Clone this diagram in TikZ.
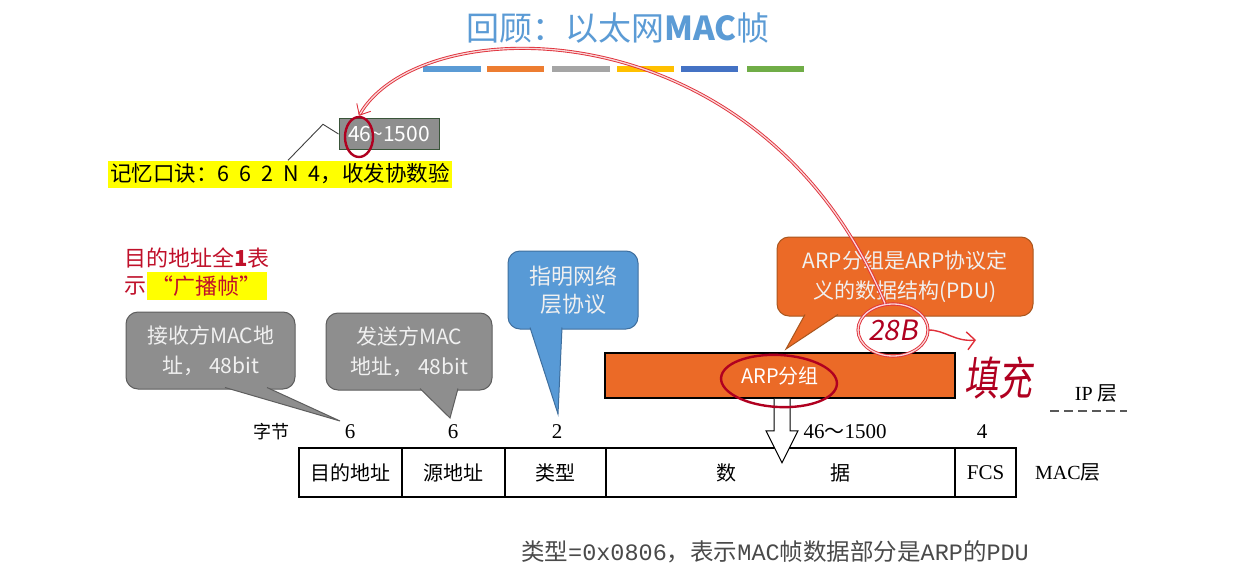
\documentclass[tikz,border=0pt]{standalone}
\usepackage{fontspec}
\setmainfont{Noto Sans CJK SC}
\newfontfamily\tms{Liberation Serif}
\newfontfamily\mono{Liberation Mono}
\newfontfamily\hand[FakeSlant=0.18]{Noto Sans CJK SC}
\usetikzlibrary{arrows.meta,shapes.geometric,calc}
\definecolor{titleblue}{HTML}{5B9BD5}
\definecolor{barA}{HTML}{5B9BD5}
\definecolor{barB}{HTML}{ED7D31}
\definecolor{barC}{HTML}{A5A5A5}
\definecolor{barD}{HTML}{FFC000}
\definecolor{barE}{HTML}{4472C4}
\definecolor{barF}{HTML}{70AD47}
\definecolor{boxgray}{HTML}{8E8E8E}
\definecolor{boxedge}{HTML}{3A553A}
\definecolor{callgray}{HTML}{8E8E8E}
\definecolor{callgrayedge}{HTML}{5E5E5E}
\definecolor{callblue}{HTML}{589AD6}
\definecolor{callblueedge}{HTML}{3F6F9E}
\definecolor{orangefill}{HTML}{EB6A27}
\definecolor{orangeedge}{HTML}{A9561E}
\definecolor{darkred}{HTML}{C0102A}
\definecolor{inkred}{HTML}{B00020}
\definecolor{penred}{HTML}{E0303A}
\definecolor{hiyellow}{HTML}{FFFF00}
\definecolor{botgray}{HTML}{4A4A4A}
\tikzset{
  callout/.style={rounded corners=12pt, draw, line width=1pt, align=center, inner sep=0pt,
    font=\fontsize{21}{30}\selectfont, text=white!94!black},
  cgray/.style={callout, fill=callgray, draw=callgrayedge},
  cblue/.style={callout, fill=callblue, draw=callblueedge},
  corange/.style={callout, fill=orangefill, draw=orangeedge},
  cell/.style={draw, line width=1.4pt, minimum height=49pt, inner sep=0pt, outer sep=0pt, anchor=north west,
    font=\fontsize{20}{24}\selectfont},
  byte/.style={font=\tms\fontsize{21}{24}\selectfont},
  ring/.style={draw=inkred, ellipse, line width=2.4pt, inner sep=0pt},
  pen/.style={draw=penred, line width=0.9pt, double=penred!20, double distance=1.3pt}
}
\begin{document}
\begin{tikzpicture}[x=1pt,y=-1pt]
\useasboundingbox (0,0) rectangle (1257,583);
\fill[white] (0,0) rectangle (1257,583);

% title
\node[text=titleblue, font=\fontsize{33}{36}\selectfont] (title) at (618,28) {回顾：以太网\textbf{MAC}帧};
% coloured bars
\fill[barA] (423,66) rectangle (481,72);
\fill[barB] (487,66) rectangle (544,72);
\fill[barC] (552,66) rectangle (610,72);
\fill[barD] (617,66) rectangle (674,72);
\fill[barE] (681,66) rectangle (738,72);
\fill[barF] (747,66) rectangle (804,72);

% 46~1500 box and mnemonic
\node[fill=boxgray, draw=boxedge, line width=1pt, minimum width=100pt, minimum height=30pt, inner sep=0pt,
  text=white, font=\fontsize{21}{24}\selectfont] (box46) at (389,134) {46\textasciitilde1500};
\node[fill=hiyellow, inner sep=2pt, minimum height=27pt, font=\fontsize{21.5}{24}\selectfont] (mnem) at (280,174)
  {记忆口诀：{\spaceskip=10pt 6 6 2 N 4}，收发协数验};
\draw[line width=0.9pt, black!75] ([xshift=8pt]mnem.north) -- ++(35,-36) -- (box46.west);

% broadcast note
\node[anchor=west, text=darkred, font=\fontsize{22}{26}\selectfont, inner sep=0pt] (bc1) at (124,258) {目的地址全\textbf{1}表};
\node[anchor=west, text=darkred, font=\fontsize{22}{26}\selectfont, inner sep=0pt] (bc2) at (124,286) {示};
\node[anchor=west, text=darkred, fill=hiyellow, font=\fontsize{22}{26}\selectfont, inner sep=0pt,
  minimum height=28pt, minimum width=120pt] (bc3) at (bc2.east) {“广播帧”};

% byte counts
\node[font=\fontsize{18}{20}\selectfont] (bytes) at (271,432) {字节};
\node[byte] (d1) at (350,432) {6};
\node[byte] (d2) at (453,432) {6};
\node[byte] (d3) at (557,432) {2};
\node[byte] (d4) at (845,432) {46{\fontsize{20}{24}\selectfont\rmfamily ～}1500};
\node[byte] (d5) at (982,432) {4};

% MAC frame
\node[cell, minimum width=103pt] (c1) at (299,448) {目的地址};
\node[cell, minimum width=103pt] (c2) at (c1.north east) {源地址};
\node[cell, minimum width=101pt] (c3) at (c2.north east) {类型};
\node[cell, minimum width=349pt] (c4) at (c3.north east) {\hspace{6pt}数\hspace{94pt}据};
\node[cell, minimum width=61pt, font=\tms\fontsize{21}{24}\selectfont] (c5) at (c4.north east) {FCS};
\node[anchor=west, font=\fontsize{20}{24}\selectfont, inner sep=0pt] (maclayer) at (1035,472) {{\tms MAC}层};

% IP layer
\node[font=\fontsize{20}{24}\selectfont] (iplayer) at (1096,393) {{\tms IP} 层};
\draw[black!65, line width=2pt, dash pattern=on 9pt off 5pt] (1050,411) -- (1127,411);

% ARP packet
\node[fill=orangefill, draw=black, line width=1.6pt, minimum width=350pt, minimum height=45pt, inner sep=0pt,
  text=white, font=\fontsize{20}{24}\selectfont] (arp) at (780,375.5) {ARP分组};
% hollow arrow
\coordinate (ah) at ([xshift=2pt]arp.south);
\draw[fill=white, line width=1pt] ([xshift=-8pt]ah) -- ++(0,32) -- ++(-8,0) -- ++(16,32) -- ++(16,-32) -- ++(-8,0) -- ++(0,-32);

% callouts
\coordinate (t1) at (340,421);
\coordinate (t2) at (450,418);
\coordinate (t3) at (558,414);
\coordinate (t4) at (786,349);
\node[cgray, minimum width=169pt, minimum height=77pt] (recv) at (210.5,350.5) {接收方MAC地\\址，\hspace{5pt}48bit};
\filldraw[fill=callgray, draw=callgrayedge, line width=1pt] ([xshift=14.5pt,yshift=2pt]recv.south) -- (t1) -- ([xshift=56.5pt,yshift=2pt]recv.south);
\node[cgray, minimum width=166pt, minimum height=77pt] (send) at (409,351.5) {发送方MAC\\地址，\hspace{5pt}48bit};
\filldraw[fill=callgray, draw=callgrayedge, line width=1pt] ([xshift=11pt,yshift=2pt]send.south) -- (t2) -- ([xshift=49pt,yshift=2pt]send.south);
\node[cblue, minimum width=130pt, minimum height=78pt, font=\fontsize{22}{28}\selectfont] (proto) at (573,290) {指明网络\\层协议};
\filldraw[fill=callblue, draw=callblueedge, line width=1pt] ([xshift=-43pt,yshift=2pt]proto.south) -- (t3) -- ([xshift=-11pt,yshift=2pt]proto.south);
\node[corange, minimum width=256pt, minimum height=79pt] (pdu) at (905,276.5) {ARP分组是ARP协议定\\义的数据结构(PDU)};
\filldraw[fill=orangefill, draw=orangeedge, line width=1pt] ([xshift=-100pt,yshift=2pt]pdu.south) -- (t4) -- ([xshift=-67pt,yshift=2pt]pdu.south);

% bottom note
\node[text=botgray, font=\fontsize{23.5}{26}\selectfont] (note) at (775,552)
  {类型{\mono =0x0806}，表示{\mono MAC}帧数据部分是{\mono ARP}的{\mono PDU}};

% red handwriting
\node[ring, minimum width=28pt, minimum height=40pt] (e46) at (359,137) {};
\node[ring, minimum width=116pt, minimum height=52pt, rotate=-3] (earp) at (779,381) {};
\node[ellipse, pen, minimum width=66pt, minimum height=52pt, inner sep=0pt, text=inkred,
  font=\hand\fontsize{28}{30}\selectfont] (c28) at (893,330) {28B};
\draw[pen, -{Straight Barb[length=9pt,width=16pt]}] ([xshift=-8pt]c28.north) .. controls (760,3) and (420,8) .. (e46.north);
\draw[penred, line width=1.4pt, -{Straight Barb[length=8pt,width=18pt]}] (c28.east) .. controls (945,330) and (955,342) .. (976,340);
\node[text=inkred, font=\hand\fontsize{34}{36}\selectfont, yscale=1.35] (fill) at (998,378) {填充};
\end{tikzpicture}
\end{document}
